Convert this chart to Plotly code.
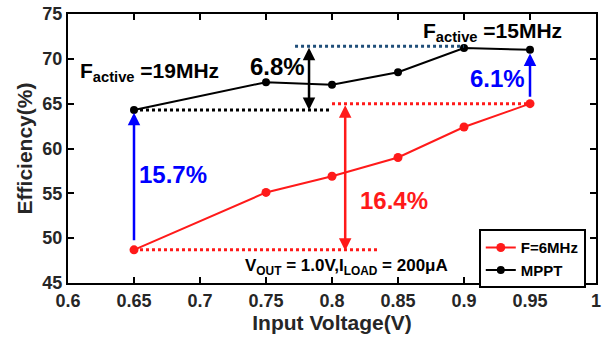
import plotly.graph_objects as go

# Data
voltages = [0.65, 0.75, 0.8, 0.85, 0.9, 0.95]
eff_fixed = [48.7, 55.1, 56.9, 59.0, 62.4, 65.0]
eff_mppt = [64.3, 67.4, 67.1, 68.5, 71.2, 71.0]
series_names = ["F=6MHz", "MPPT"]

x_ticks = [0.6, 0.65, 0.7, 0.75, 0.8, 0.85, 0.9, 0.95, 1.0]
x_tick_labels = ["0.6", "0.65", "0.7", "0.75", "0.8", "0.85", "0.9", "0.95", "1"]
y_ticks = [45, 50, 55, 60, 65, 70, 75]

FONT = "Arial, Liberation Sans, sans-serif"
RED = "#ff1a1a"
BLUE = "#0000ff"
NAVY = "#1f4e79"
GRAY = "#262626"

fig = go.Figure()
fig.add_trace(go.Scatter(x=voltages, y=eff_fixed, mode="lines+markers", name="<b>" + series_names[0] + "</b>",
                         line=dict(color=RED, width=2), marker=dict(size=9, color=RED)))
fig.add_trace(go.Scatter(x=voltages, y=eff_mppt, mode="lines+markers", name="<b>" + series_names[1] + "</b>",
                         line=dict(color="black", width=2), marker=dict(size=8, color="black")))

# Dotted reference lines (x0, x1, y, colour)
dotted = [
    (0.65, 0.80, eff_mppt[0], "black"),
    (0.772, 0.90, 71.4, NAVY),
    (0.80, 0.95, eff_fixed[-1], RED),
    (0.65, 0.835, eff_fixed[0], RED),
]
for x0, x1, y, c in dotted:
    fig.add_shape(type="line", xref="x", yref="y", x0=x0, x1=x1, y0=y, y1=y,
                  line=dict(color=c, width=3, dash="dot"))

# Arrows: (x, y_tail, y_head, colour, double)
arrows = [
    (0.65, 49.6, 64.0, BLUE, False),
    (0.95, 65.6, 70.6, BLUE, False),
    (0.7826, 71.4, 64.3, "black", True),
    (0.81, 65.0, 48.6, RED, True),
]
for x, yt, yh, c, dbl in arrows:
    fig.add_annotation(x=x, y=yh, ax=x, ay=yt, xref="x", yref="y", axref="x", ayref="y",
                       showarrow=True, arrowhead=2, arrowsize=1, arrowwidth=2.5, arrowcolor=c,
                       arrowside="end+start" if dbl else "end", startarrowhead=2, startarrowsize=1,
                       text="")

# Centered text labels: (x, y, text, colour, size)
labels = [
    (0.759, 69.1, "6.8%", "black", 24),
    (0.6795, 57.1, "15.7%", BLUE, 24),
    (0.8473, 54.2, "16.4%", RED, 24),
    (0.9254, 67.8, "6.1%", BLUE, 24),
]
for x, y, t, c, s in labels:
    fig.add_annotation(x=x, y=y, xref="x", yref="y", text="<b>" + t + "</b>", showarrow=False,
                       font=dict(family=FONT, size=s, color=c), xanchor="center", yanchor="middle")

# Left-anchored labels: (x, y, text, size)
left_labels = [
    (0.6076, 68.5, "F<sub>active</sub> =19MHz", 21),
    (0.8674, 73.0, "F<sub>active</sub> =15MHz", 21),
    (0.7326, 46.8, "V<sub>OUT</sub> = 1.0V,I<sub>LOAD</sub> = 200μA", 17),
]
for x, y, t, s in left_labels:
    fig.add_annotation(x=x, y=y, xref="x", yref="y", text="<b>" + t + "</b>", showarrow=False,
                       font=dict(family=FONT, size=s, color="black"), xanchor="left", yanchor="middle")

axis_common = dict(showline=True, linecolor="black", linewidth=2, mirror="ticks", ticks="inside",
                   ticklen=6, tickwidth=1.5, tickcolor="black", showgrid=False, zeroline=False,
                   automargin=False, tickfont=dict(family=FONT, size=18, color=GRAY))

fig.update_layout(
    width=610, height=343,
    margin=dict(l=68, r=14, t=14, b=60),
    paper_bgcolor="white", plot_bgcolor="white",
    xaxis=dict(range=[0.6, 1.0], tickvals=x_ticks, ticktext=["<b>%s</b>" % t for t in x_tick_labels],
               title=dict(text="<b>Input Voltage(V)</b>", font=dict(family=FONT, size=21, color=GRAY),
                          standoff=4), **axis_common),
    yaxis=dict(range=[45, 75], tickvals=y_ticks, ticktext=["<b>%d</b>" % v for v in y_ticks],
               title=dict(text="<b>Efficiency(%)</b>", font=dict(family=FONT, size=21, color=GRAY),
                          standoff=4), **axis_common),
    legend=dict(x=0.778, y=0.2, xanchor="left", yanchor="top", bgcolor="white",
                bordercolor="black", borderwidth=2, tracegroupgap=0, itemwidth=30,
                font=dict(family=FONT, size=15, color="black")),
    showlegend=True,
)

fig.write_html("out.html", config={"displayModeBar": False},
               post_script="document.body.style.margin='0px';")
